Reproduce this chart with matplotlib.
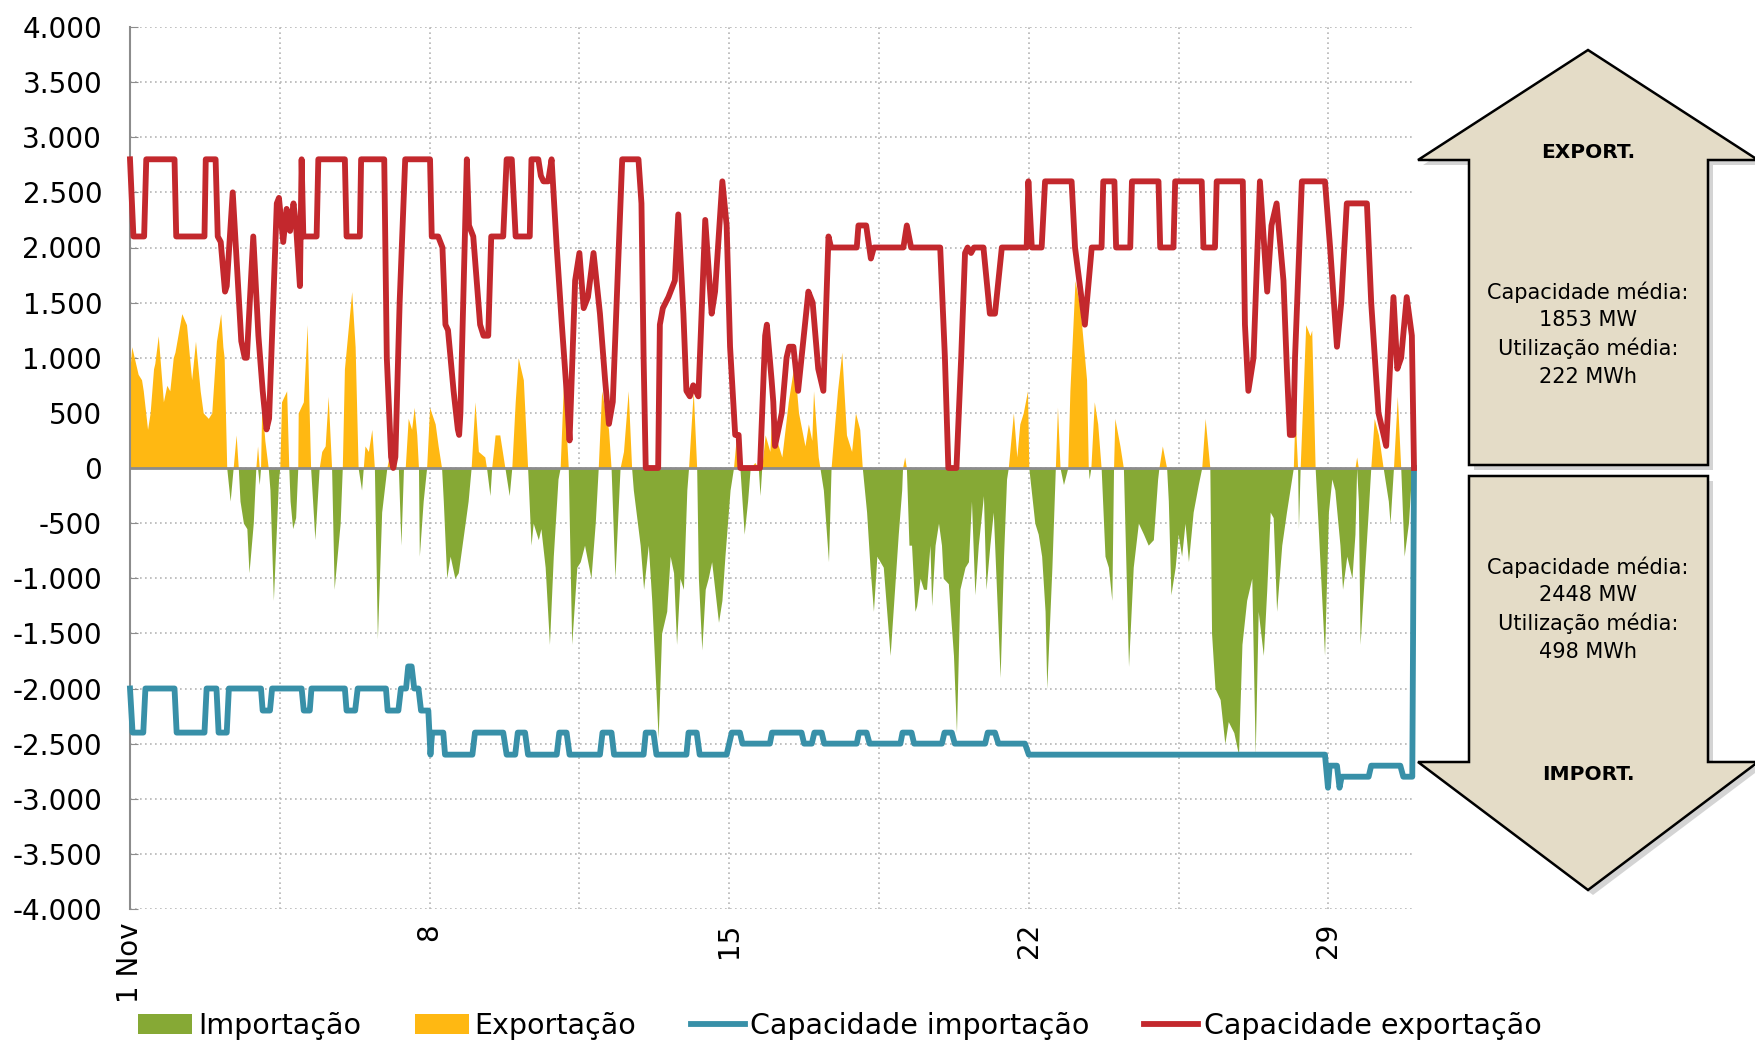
import matplotlib.pyplot as plt
import numpy as np
from matplotlib.patches import Polygon
from matplotlib.ticker import FuncFormatter

# Saldo horário da interligação (MW): positivo = exportação, negativo = importação
# (dias desde 1 Nov 00:00)
dias_saldo = [
    0.0, 0.04, 0.19, 0.27, 0.31, 0.41, 0.47, 0.55, 0.58, 0.66,
    0.78, 0.86, 0.93, 1.01, 1.05, 1.21, 1.32, 1.44, 1.53, 1.64,
    1.71, 1.83, 1.91, 2.02, 2.12, 2.17, 2.2, 2.26, 2.34, 2.41,
    2.48, 2.53, 2.57, 2.65, 2.73, 2.78, 2.88, 2.94, 2.98, 3.02,
    3.05, 3.08, 3.15, 3.23, 3.27, 3.35, 3.47, 3.5, 3.54, 3.66,
    3.71, 3.74, 3.8, 3.87, 3.92, 3.93, 4.05, 4.14, 4.18, 4.22,
    4.32, 4.42, 4.48, 4.56, 4.63, 4.71, 4.77, 4.91, 4.96, 5.01,
    5.18, 5.26, 5.33, 5.41, 5.45, 5.49, 5.57, 5.65, 5.71, 5.78,
    5.88, 6.0, 6.05, 6.15, 6.22, 6.27, 6.33, 6.39, 6.43, 6.5,
    6.58, 6.64, 6.7, 6.74, 6.76, 6.85, 6.93, 7.0, 7.13, 7.2,
    7.28, 7.32, 7.4, 7.48, 7.59, 7.67, 7.83, 7.9, 7.97, 8.06,
    8.14, 8.29, 8.33, 8.41, 8.45, 8.53, 8.64, 8.72, 8.76, 8.86,
    8.92, 9.0, 9.07, 9.19, 9.29, 9.37, 9.42, 9.54, 9.6, 9.7,
    9.8, 9.89, 10.0, 10.05, 10.13, 10.24, 10.32, 10.44, 10.52, 10.62,
    10.77, 10.87, 10.94, 11.02, 11.18, 11.24, 11.33, 11.45, 11.53, 11.64,
    11.72, 11.76, 11.92, 12.0, 12.11, 12.19, 12.34, 12.42, 12.54, 12.62,
    12.7, 12.77, 12.85, 12.93, 13.01, 13.05, 13.16, 13.24, 13.28, 13.36,
    13.44, 13.51, 13.59, 13.75, 13.83, 13.9, 14.02, 14.1, 14.17, 14.25,
    14.35, 14.43, 14.49, 14.6, 14.68, 14.72, 14.76, 14.84, 14.95, 15.01,
    15.11, 15.23, 15.38, 15.52, 15.62, 15.77, 15.85, 15.93, 15.97, 16.08,
    16.12, 16.2, 16.32, 16.38, 16.53, 16.63, 16.74, 16.86, 16.95, 17.05,
    17.11, 17.21, 17.29, 17.37, 17.45, 17.6, 17.76, 17.95, 18.03, 18.05,
    18.1, 18.14, 18.2, 18.26, 18.34, 18.38, 18.46, 18.54, 18.61, 18.69,
    18.73, 18.81, 18.89, 18.96, 19.0, 19.12, 19.24, 19.31, 19.39, 19.51,
    19.59, 19.66, 19.74, 19.82, 19.94, 20.0, 20.09, 20.17, 20.33, 20.41,
    20.48, 20.52, 20.64, 20.72, 20.79, 20.87, 20.97, 21.0, 21.14, 21.22,
    21.3, 21.38, 21.42, 21.54, 21.62, 21.67, 21.73, 21.81, 21.91, 21.96,
    22.08, 22.2, 22.35, 22.39, 22.41, 22.45, 22.53, 22.61, 22.69, 22.78,
    22.86, 22.94, 22.98, 23.01, 23.13, 23.21, 23.25, 23.33, 23.44, 23.56,
    23.68, 23.79, 23.91, 24.01, 24.04, 24.12, 24.22, 24.26, 24.32, 24.42,
    24.49, 24.57, 24.65, 24.73, 24.84, 24.96, 25.04, 25.12, 25.23, 25.27,
    25.35, 25.47, 25.58, 25.66, 25.79, 25.9, 25.98, 26.09, 26.21, 26.29,
    26.36, 26.48, 26.56, 26.64, 26.71, 26.79, 26.91, 27.02, 27.14, 27.18,
    27.22, 27.28, 27.3, 27.34, 27.47, 27.57, 27.61, 27.69, 27.77, 27.91,
    28.0, 28.08, 28.15, 28.27, 28.33, 28.43, 28.55, 28.62, 28.66, 28.7,
    28.74, 28.93, 28.99, 29.07, 29.17, 29.28, 29.4, 29.44, 29.52, 29.61,
    29.69, 29.77, 29.87, 29.95,
]
saldo = [
    900, 1100, 850, 800, 700, 350, 500, 900, 950, 1200,
    600, 750, 700, 1000, 1050, 1400, 1300, 800, 1150, 700,
    500, 450, 500, 1150, 1400, 1100, 1000, 0, -300, 0,
    300, 0, -300, -500, -550, -950, -500, 0, 200, -150,
    0, 600, 250, 0, -200, -1200, -100, 0, 600, 700,
    0, -300, -550, -450, 0, 500, 600, 1300, 600, 0,
    -650, 0, 150, 200, 650, 0, -1100, -500, 0, 900,
    1600, 1100, 0, -200, 0, 200, 150, 350, 0, -1550,
    -400, 0, 100, 300, 0, 0, -700, 0, 0, 450,
    350, 550, 300, 0, -800, -300, 0, 550, 400, 200,
    0, -300, -1000, -800, -1000, -950, -500, -300, 0, 600,
    150, 100, 0, -250, 0, 300, 300, 100, 0, -250,
    0, 600, 1000, 800, 0, -700, -500, -650, -550, -900,
    -1600, -800, -100, 0, 800, 0, -1600, -900, -850, -700,
    -1000, -500, 0, 700, 350, 0, -1000, 0, 150, 700,
    0, -200, -700, -1100, -700, -1200, -2450, -1500, -1300, -800,
    -950, -1600, -1000, -1100, -200, 0, 700, 0, -1000, -1650,
    -1100, -1000, -850, -1400, -1200, -800, -200, 0, 300, 0,
    -600, -300, 0, 50, 0, -250, 0, 300, 150, 600,
    250, 100, 600, 950, 500, 200, 400, 250, 700, 100,
    0, -200, -850, 0, 700, 1050, 300, 150, 500, 350,
    0, -400, -900, -1300, -800, -900, -1700, -600, -200, 0,
    100, 0, -700, -700, -1300, -1250, -1000, -1100, -1100, -700,
    -1250, -700, -500, -700, -1000, -1050, -1700, -2400, -1100, -900,
    -850, -300, -1150, -700, -250, -1100, -700, -400, -1900, -800,
    -100, 0, 500, 100, 400, 500, 700, 0, -500, -600,
    -800, -1300, -2000, -900, 0, 550, 0, -150, 0, 700,
    1700, 1450, 800, 0, -100, 0, 600, 400, 0, -800,
    -900, -1200, 0, 450, 200, 0, -600, -1800, -900, -500,
    -600, -700, -650, -100, 0, 200, 0, -300, -1150, -900,
    -600, -800, -500, -850, -400, -150, 0, 450, 0, -1500,
    -2000, -2100, -2500, -2300, -2400, -2600, -1600, -1200, -1000, -2600,
    -1300, -1700, -1100, -400, -450, -1300, -700, -400, -100, 0,
    500, 0, -550, 0, 1300, 1200, 1250, 0, -600, -1700,
    -400, -100, -200, -700, -1100, -800, -1000, -600, 100, -300,
    -1600, -400, 0, 450, 300, 0, -300, -500, 0, 650,
    0, -800, -500, 0,
]

# Capacidade de exportação (MW)
dias_cap_exp = [
    0.0, 0.08, 0.33, 0.38, 1.04, 1.08, 1.74, 1.77, 2.0, 2.05,
    2.12, 2.22, 2.26, 2.4, 2.6, 2.68, 2.73, 2.88, 3.0, 3.1,
    3.19, 3.25, 3.43, 3.48, 3.58, 3.66, 3.74, 3.82, 3.88, 3.97,
    4.01, 4.05, 4.36, 4.4, 5.02, 5.06, 5.37, 5.4, 5.94, 6.0,
    6.1, 6.15, 6.2, 6.3, 6.43, 7.01, 7.05, 7.2, 7.3, 7.37,
    7.43, 7.56, 7.66, 7.69, 7.72, 7.87, 7.92, 7.97, 8.02, 8.18,
    8.26, 8.37, 8.44, 8.72, 8.8, 8.92, 9.01, 9.34, 9.38, 9.54,
    9.6, 9.66, 9.77, 9.85, 9.97, 10.09, 10.2, 10.27, 10.4, 10.5,
    10.6, 10.7, 10.83, 10.98, 11.1, 11.19, 11.28, 11.5, 11.88, 11.95,
    12.0, 12.05, 12.34, 12.38, 12.45, 12.58, 12.73, 12.81, 12.93, 13.0,
    13.08, 13.16, 13.28, 13.44, 13.59, 13.67, 13.84, 13.94, 14.02, 14.14,
    14.22, 14.26, 14.72, 14.84, 14.88, 14.99, 15.03, 15.07, 15.23, 15.34,
    15.4, 15.5, 15.61, 15.85, 15.95, 16.08, 16.2, 16.32, 16.38, 16.98,
    17.02, 17.2, 17.31, 17.38, 18.07, 18.15, 18.25, 18.93, 19.04, 19.12,
    19.31, 19.42, 19.51, 19.57, 19.65, 19.72, 19.94, 20.09, 20.21, 20.37,
    20.95, 20.99, 21.07, 21.3, 21.38, 22.0, 22.08, 22.31, 22.47, 22.7,
    22.74, 23.0, 23.04, 23.37, 23.41, 24.03, 24.07, 24.38, 24.42, 25.04,
    25.08, 25.35, 25.39, 26.0, 26.05, 26.13, 26.25, 26.4, 26.57, 26.67,
    26.79, 26.95, 27.03, 27.1, 27.18, 27.22, 27.38, 27.92, 28.04, 28.2,
    28.3, 28.43, 28.9, 29.0, 29.17, 29.35, 29.52, 29.61, 29.7, 29.83,
    29.95, 30.0,
]
cap_exp = [
    2800, 2100, 2100, 2800, 2800, 2100, 2100, 2800, 2800, 2100,
    2050, 1600, 1650, 2500, 1150, 1000, 1000, 2100, 1200, 700,
    350, 450, 2400, 2450, 2050, 2350, 2150, 2400, 2200, 1650,
    2800, 2100, 2100, 2800, 2800, 2100, 2100, 2800, 2800, 1000,
    100, 0, 100, 1500, 2800, 2800, 2100, 2100, 2000, 1300,
    1250, 700, 350, 300, 500, 2800, 2200, 2150, 2100, 1300,
    1200, 1200, 2100, 2100, 2800, 2800, 2100, 2100, 2800, 2800,
    2650, 2600, 2600, 2800, 2000, 1300, 700, 250, 1700, 1950,
    1450, 1550, 1950, 1400, 800, 400, 600, 2800, 2800, 2400,
    1000, 0, 0, 1300, 1450, 1550, 1700, 2300, 1400, 700,
    650, 750, 650, 2250, 1400, 1600, 2600, 2200, 1100, 300,
    300, 0, 0, 1200, 1300, 800, 600, 200, 500, 1000,
    1100, 1100, 700, 1600, 1500, 900, 700, 2100, 2000, 2000,
    2200, 2200, 1900, 2000, 2000, 2200, 2000, 2000, 1000, 0,
    0, 1000, 1950, 2000, 1950, 2000, 2000, 1400, 1400, 2000,
    2000, 2600, 2000, 2000, 2600, 2600, 2000, 1300, 2000, 2000,
    2600, 2600, 2000, 2000, 2600, 2600, 2000, 2000, 2600, 2600,
    2000, 2000, 2600, 2600, 1300, 700, 1000, 2600, 1600, 2200,
    2400, 1700, 900, 300, 300, 1000, 2600, 2600, 2000, 1100,
    1500, 2400, 2400, 1500, 500, 200, 1550, 900, 1000, 1550,
    1200, 0,
]

# Capacidade de importação (MW)
dias_cap_imp = [
    0.0, 0.06, 0.31, 0.36, 1.04, 1.09, 1.74, 1.79, 2.02, 2.07,
    2.26, 2.31, 3.06, 3.1, 3.27, 3.32, 4.01, 4.06, 4.2, 4.24,
    5.02, 5.06, 5.26, 5.32, 5.98, 6.02, 6.27, 6.33, 6.45, 6.5,
    6.58, 6.64, 6.74, 6.8, 6.97, 7.02, 7.06, 7.32, 7.36, 8.0,
    8.06, 8.72, 8.8, 9.0, 9.06, 9.23, 9.3, 9.97, 10.03, 10.2,
    10.27, 10.98, 11.04, 11.25, 11.31, 12.0, 12.05, 12.23, 12.3, 13.0,
    13.05, 13.24, 13.31, 13.94, 14.0, 14.06, 14.25, 14.31, 14.95, 15.0,
    15.69, 15.75, 15.93, 15.99, 16.16, 16.22, 16.98, 17.03, 17.21, 17.28,
    18.0, 18.05, 18.26, 18.32, 18.97, 19.03, 19.2, 19.27, 19.98, 20.04,
    20.21, 20.29, 20.91, 21.0, 27.92, 27.99, 28.03, 28.2, 28.26, 28.31,
    28.94, 29.0, 29.68, 29.75, 29.96, 30.0,
]
cap_imp = [
    -2000, -2400, -2400, -2000, -2000, -2400, -2400, -2000, -2000, -2400,
    -2400, -2000, -2000, -2200, -2200, -2000, -2000, -2200, -2200, -2000,
    -2000, -2200, -2200, -2000, -2000, -2200, -2200, -2000, -2000, -1800,
    -1800, -2000, -2000, -2200, -2200, -2600, -2400, -2400, -2600, -2600,
    -2400, -2400, -2600, -2600, -2400, -2400, -2600, -2600, -2400, -2400,
    -2600, -2600, -2400, -2400, -2600, -2600, -2400, -2400, -2600, -2600,
    -2400, -2400, -2600, -2600, -2500, -2400, -2400, -2500, -2500, -2400,
    -2400, -2500, -2500, -2400, -2400, -2500, -2500, -2400, -2400, -2500,
    -2500, -2400, -2400, -2500, -2500, -2400, -2400, -2500, -2500, -2400,
    -2400, -2500, -2500, -2600, -2600, -2900, -2700, -2700, -2900, -2800,
    -2800, -2700, -2700, -2800, -2800, 0,
]

ticks_x = [0, 3.5, 7, 10.5, 14, 17.5, 21, 24.5, 28]
labels_x = ["1 Nov", "", "8", "", "15", "", "22", "", "29"]

assert len(dias_saldo) == len(saldo)
assert len(dias_cap_exp) == len(cap_exp)
assert len(dias_cap_imp) == len(cap_imp)

VERDE = "#86a935"
LARANJA = "#ffb812"
AZUL = "#3890a8"
VERMELHO = "#c3282d"
BEGE = "#e4dcc7"
CINZA = "#8c8c8c"

W, H = 1756, 1044
fig = plt.figure(figsize=(W / 100, H / 100), dpi=100)
ax = fig.add_axes([130 / W, 1 - 909 / H, 1284 / W, 882 / H])

saldo = np.array(saldo)
ax.fill_between(dias_saldo, np.minimum(saldo, 0), 0, color=VERDE, lw=0,
                label="Importação", zorder=2)
ax.fill_between(dias_saldo, np.maximum(saldo, 0), 0, color=LARANJA, lw=0,
                label="Exportação", zorder=2)
ax.axhline(0, color=CINZA, lw=2, zorder=3)
ax.plot(dias_cap_imp, cap_imp, color=AZUL, lw=4.2, label="Capacidade importação",
        zorder=4, clip_on=False)
ax.plot(dias_cap_exp, cap_exp, color=VERMELHO, lw=4.2, label="Capacidade exportação",
        zorder=5, clip_on=False)

ax.set_xlim(0, 30)
ax.set_ylim(-4000, 4000)
ax.set_yticks(range(-4000, 4001, 500))
ax.yaxis.set_major_formatter(FuncFormatter(lambda v, p: f"{int(v):,}".replace(",", ".")))
ax.set_xticks(ticks_x)
ax.set_xticklabels(labels_x, rotation=90)

ax.grid(True, color="#b5b5b5", ls=(0, (1, 2)), lw=1.2)
ax.set_axisbelow(True)
for lado in ["top", "right", "bottom"]:
    ax.spines[lado].set_visible(False)
ax.spines["left"].set_color(CINZA)
ax.spines["left"].set_linewidth(1.5)
ax.tick_params(axis="y", direction="in", length=6, color=CINZA, pad=20, labelsize=20)
ax.tick_params(axis="x", length=0, pad=10, labelsize=20)

fig.legend(loc="center left", bbox_to_anchor=(138 / W, 0.017), ncol=4, frameon=False,
           fontsize=20.5, handlelength=1.9, handletextpad=0.2, columnspacing=1.9,
           borderpad=0, borderaxespad=0)


# Setas laterais (coordenadas em píxeis da figura)
def em_figura(pontos, dx=0, dy=0):
    return [((x + dx) / W, 1 - (y + dy) / H) for x, y in pontos]


seta_cima = [(1588, 50), (1758, 160), (1708, 160), (1708, 465),
             (1469, 465), (1469, 160), (1418, 160)]
seta_baixo = [(1469, 476), (1708, 476), (1708, 762), (1758, 762),
              (1588, 890), (1418, 762), (1469, 762)]
for seta in [seta_cima, seta_baixo]:
    fig.add_artist(Polygon(em_figura(seta, 5, 5), closed=True, transform=fig.transFigure,
                           fc="#a0a0a0", ec="none", alpha=0.45))
    fig.add_artist(Polygon(em_figura(seta), closed=True, transform=fig.transFigure,
                           fc=BEGE, ec="black", lw=1.8))

fig.text(1588 / W, 1 - 153 / H, "EXPORT.", ha="center", va="center",
         fontsize=14.5, fontweight="bold")
fig.text(1588 / W, 1 - 334 / H, "Capacidade média:\n1853 MW\nUtilização média:\n222 MWh",
         ha="center", va="center", fontsize=15, linespacing=1.45)
fig.text(1588 / W, 1 - 609 / H, "Capacidade média:\n2448 MW\nUtilização média:\n498 MWh",
         ha="center", va="center", fontsize=15, linespacing=1.45)
fig.text(1588 / W, 1 - 775 / H, "IMPORT.", ha="center", va="center",
         fontsize=14.5, fontweight="bold")

fig.savefig("out.png", dpi=100)
